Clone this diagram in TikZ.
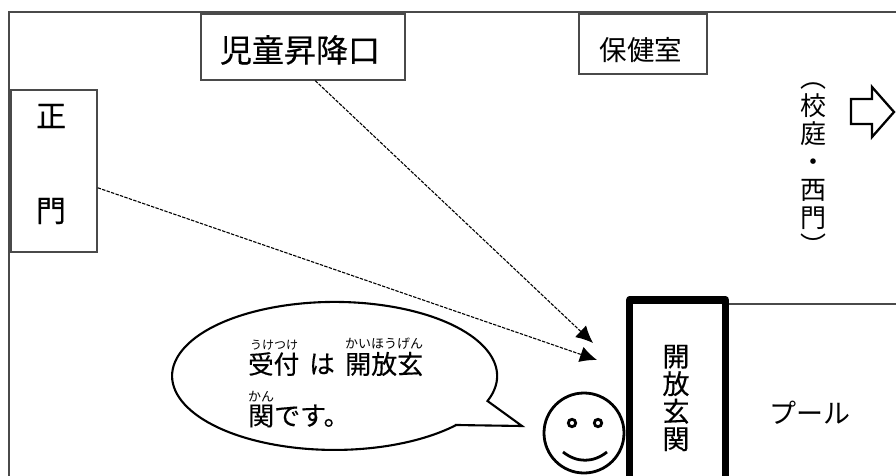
\documentclass[tikz,border=0pt]{standalone}
\usepackage{fontspec}
\newfontfamily\cjk{Noto Sans CJK JP}
\newfontfamily\cjkb[FakeBold=0.4]{Noto Sans CJK JP}
\usetikzlibrary{arrows.meta}
\definecolor{boxgray}{HTML}{4A4A4A}
\newcommand{\sz}[2]{\fontsize{#1}{#2}\selectfont}
\tikzset{
  x=1pt,y=-1pt,
  framebox/.style={draw=boxgray,line width=1.4pt,fill=white,rectangle,inner sep=0pt},
  txt/.style={inner sep=0pt,text=black,font=\cjk},
  btxt/.style={inner sep=0pt,text=black,font=\cjkb},
  walkline/.style={line width=1.1pt,dash pattern=on 3.4pt off 1.3pt,-{Latex[length=17pt,width=16pt]}},
  heavy/.style={draw=black,line width=2.8pt},
}
\begin{document}
\begin{tikzpicture}
\useasboundingbox (0,0) rectangle (896,476);
% outer frame
\draw[draw=boxgray,line width=2pt] (9,476) -- (9,12) -- (896,12);
% boxes
\node[framebox,minimum width=204pt,minimum height=66pt] (jido) at (303,47) {};
\node[btxt] (jidotxt) at (300,50) {\sz{32}{34}児童昇降口};
\node[framebox,minimum width=128pt,minimum height=60pt] (hoken) at (643,44) {};
\node[txt] (hokentxt) at (641,50.5) {\sz{27.5}{30}保健室};
\node[framebox,minimum width=86pt,minimum height=162pt] (seimon) at (54,171) {};
\node[btxt] (sei) at (51,116) {\sz{30}{32}正};
\node[btxt] (mon) at (51,211) {\sz{30}{32}門};
% vertical text
\node[txt,align=center,font=\cjk\sz{26}{28}] (kotei) at (813,169.5) {︵\\校\\庭\\・\\西\\門\\︶};
% block arrow
\draw[line width=2.3pt,draw=black,fill=white,miter limit=10] (851,99) -- (872,99) -- (872,87) -- (894,112) -- (872,137) -- (872,124) -- (851,124) -- cycle;
% pool
\draw[draw=boxgray,line width=1.4pt] (729,304) -- (896,304);
\draw[line width=7.5pt,line join=round] (629.7,476) -- (629.7,300) -- (725.5,300) -- (725.5,476);
\coordinate (kaihoA) at (593,343);
\coordinate (kaihoB) at (597,360);
\node[btxt,align=center,font=\cjkb\sz{27}{27.5}] (kaiho) at (676,398) {開\\放\\玄\\関};
\node[txt] (pool) at (810,413) {\sz{27}{30}プール};
% connectors
\draw[walkline] (jido.-70) -- (kaihoA);
\draw[walkline] (seimon.-21.6) -- (kaihoB);
% smiley
\draw[heavy] (584,433) circle[radius=40pt];
\draw[heavy] (572,423) circle[radius=3.7pt];
\draw[heavy] (598,423) circle[radius=3.7pt];
\draw[heavy] (563,452) .. controls (577,463) and (593,463) .. (607,452);
% speech bubble
\draw[line width=2.1pt,fill=white,line join=miter]
  (487.5,401) arc[start angle=-19.8,end angle=318.5,x radius=162.5pt,y radius=74pt]
  -- (455,425) -- (522,426) -- cycle;
\node[btxt,anchor=west] (uketsuke) at (248,364) {\sz{25.5}{28}受付};
\node[btxt] (wa) at (322,364) {\sz{25.5}{28}は};
\node[btxt,anchor=west] (genkan) at (345,364) {\sz{26}{28}開放玄};
\node[btxt,anchor=west] (kan) at (248,416) {\sz{26}{28}関です。};
\node[txt,anchor=west] (r1) at (250,345) {\sz{12}{14}うけつけ};
\node[txt,anchor=west] (r2) at (345,344) {\sz{13}{15}かいほうげん};
\node[txt,anchor=west] (r3) at (248,397) {\sz{13}{15}かん};
\end{tikzpicture}
\end{document}
